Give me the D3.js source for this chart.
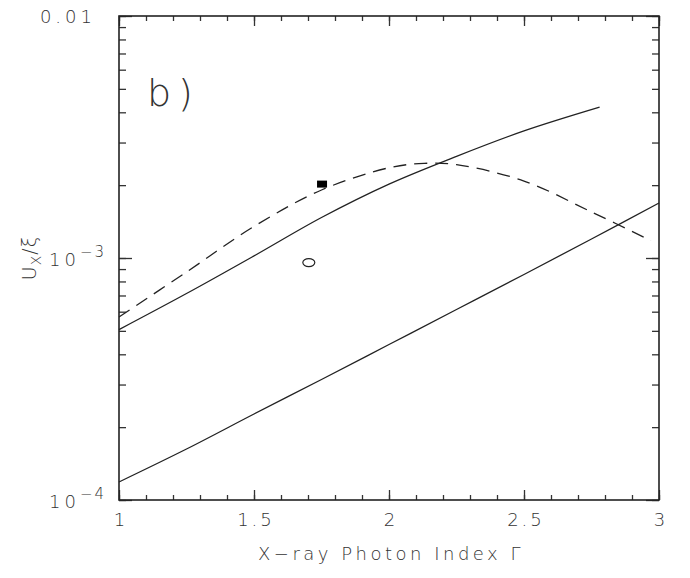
<!DOCTYPE html>
<html lang="en">
<head>
<meta charset="UTF-8">
<title>Ux/xi vs photon index</title>
<style>
  body { margin: 0; background: #fff; }
  text { font-family: "DejaVu Sans", "Liberation Sans", sans-serif; font-weight: 200; fill: #333; }
</style>
<script src="https://d3js.org/d3.v7.min.js"></script>
</head>
<body>
<script type="text/javascript">
// data
const gammaLow = [1.0, 1.25, 1.5, 1.75, 2.0, 2.25, 2.5, 2.75, 3.0]
const uxLow = [1.187e-4, 1.624e-4, 2.266e-4, 3.147e-4, 4.39e-4, 6.125e-4, 8.55e-4, 1.198e-3, 1.688e-3]

const gammaHigh = [1.0, 1.25, 1.5, 1.75, 2.0, 2.25, 2.5, 2.78]
const uxHigh = [5.06e-4, 7.13e-4, 1.02e-3, 1.47e-3, 2.02e-3, 2.63e-3, 3.35e-3, 4.2e-3]

const gammaDash = [1.0, 1.25, 1.5, 1.75, 2.0, 2.13, 2.25, 2.5, 2.75, 2.97]
const uxDash = [5.7e-4, 8.75e-4, 1.35e-3, 1.91e-3, 2.36e-3, 2.46e-3, 2.43e-3, 2.08e-3, 1.55e-3, 1.18e-3]

const squarePt = [1.752, 2.02e-3]
const circlePt = [1.703, 9.57e-4]

const xMajor = [1, 1.5, 2, 2.5, 3]
const xLabels = ["1", "1.5", "2", "2.5", "3"]

const width = 690
const height = 578

const svg = d3.select("body").append("svg")
  .attr("width", width)
  .attr("height", height)

const plotL = 119, plotR = 659, plotT = 16, plotB = 500

const x = d3.scaleLinear().domain([1, 3]).range([plotL, plotR])
const y = d3.scaleLog().domain([1e-4, 1e-2]).range([plotB, plotT])

//ticks, all pointing inward
const xMinor = d3.range(1, 3.0001, 0.1).map(d => +d.toFixed(1))
const yAll = y.ticks()
const yMajor = [1e-4, 1e-3, 1e-2]

function tickAxis(axis, pos, values, size) {
  svg.append("g")
    .attr("transform", pos)
    .call(axis.tickValues(values).tickSize(size).tickFormat(""))
    .call(g => g.select(".domain").remove())
    .call(g => g.selectAll("line").attr("stroke", "#333").attr("stroke-width", 1.3))
}

tickAxis(d3.axisBottom(x), `translate(0,${plotB})`, xMinor, -5)
tickAxis(d3.axisBottom(x), `translate(0,${plotB})`, xMajor, -10)
tickAxis(d3.axisTop(x), `translate(0,${plotT})`, xMinor, -5)
tickAxis(d3.axisTop(x), `translate(0,${plotT})`, xMajor, -10)
tickAxis(d3.axisLeft(y), `translate(${plotL},0)`, yAll, -7)
tickAxis(d3.axisLeft(y), `translate(${plotL},0)`, yMajor, -13)
tickAxis(d3.axisRight(y), `translate(${plotR},0)`, yAll, -7)
tickAxis(d3.axisRight(y), `translate(${plotR},0)`, yMajor, -13)

//frame
svg.append("rect")
  .attr("x", plotL).attr("y", plotT)
  .attr("width", plotR - plotL).attr("height", plotB - plotT)
  .attr("fill", "none")
  .attr("stroke", "#222")
  .attr("stroke-width", 1.6)

//x tick labels
svg.selectAll(".xlab")
  .data(xMajor)
  .join("text")
  .attr("class", "xlab")
  .attr("x", d => x(d) + 2)
  .attr("y", 526)
  .attr("text-anchor", "middle")
  .style("font-size", "18px")
  .style("letter-spacing", "3px")
  .text((d, i) => xLabels[i])

//y tick labels
svg.append("text")
  .attr("x", 96).attr("y", y(1e-2) + 7)
  .attr("text-anchor", "end")
  .style("font-size", "18px")
  .style("letter-spacing", "4px")
  .text("0.01")

function powLabel(v, exp) {
  const t = svg.append("text")
    .attr("x", 106).attr("y", y(v) + 8)
    .attr("text-anchor", "end")
    .style("font-size", "18px")
    .style("letter-spacing", "4px")
  t.append("tspan").text("10")
  t.append("tspan").attr("dy", -9).style("font-size", "15px").style("letter-spacing", "2px").text("\u2212" + exp)
}
powLabel(1e-3, "3")
powLabel(1e-4, "4")

//axis titles
svg.append("text")
  .attr("x", (plotL + plotR) / 2 + 2).attr("y", 560)
  .attr("text-anchor", "middle")
  .style("font-size", "18px")
  .style("letter-spacing", "3.5px")
  .text("X\u2212ray Photon Index \u0393")

const ylab = svg.append("text")
  .attr("transform", `translate(36,${y(1e-3)}) rotate(-90)`)
  .attr("text-anchor", "middle")
  .style("font-size", "19px")
  .style("letter-spacing", "1px")
ylab.append("tspan").text("U")
ylab.append("tspan").attr("dy", 5).style("font-size", "14px").text("X")
ylab.append("tspan").attr("dy", -5).text("/\u03be")

//panel label
svg.append("text")
  .attr("x", 147).attr("y", 106)
  .style("font-size", "38px")
  .style("letter-spacing", "7px")
  .text("b)")

//curves
const line = d3.line()
  .x(d => x(d[0]))
  .y(d => y(d[1]))
  .curve(d3.curveCatmullRom)

function drawCurve(gs, us, dash) {
  svg.append("path")
    .datum(d3.zip(gs, us))
    .attr("d", line)
    .attr("fill", "none")
    .attr("stroke", "#222")
    .attr("stroke-width", 1.3)
    .attr("stroke-dasharray", dash)
}
drawCurve(gammaLow, uxLow, null)
drawCurve(gammaHigh, uxHigh, null)
drawCurve(gammaDash, uxDash, "13,8")

//points
svg.append("rect")
  .attr("x", x(squarePt[0]) - 5).attr("y", y(squarePt[1]) - 3.5)
  .attr("width", 10).attr("height", 7)
  .attr("fill", "#000")

svg.append("ellipse")
  .attr("cx", x(circlePt[0])).attr("cy", y(circlePt[1]))
  .attr("rx", 6).attr("ry", 4)
  .attr("fill", "none")
  .attr("stroke", "#222")
  .attr("stroke-width", 1.2)
</script>
</body>
</html>
